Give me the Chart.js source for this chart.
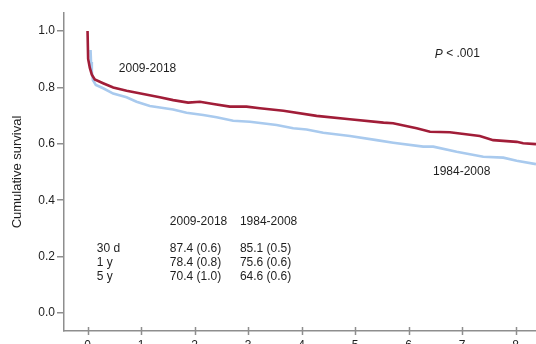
<!DOCTYPE html>
<html>
<head>
<meta charset="utf-8">
<script src="https://cdn.jsdelivr.net/npm/chart.js@4/dist/chart.umd.min.js"></script>
<style>
  html, body { margin: 0; padding: 0; background: #fff; overflow: hidden; }
  canvas { display: block; }
</style>
</head>
<body>
<canvas id="km" width="536" height="344"></canvas>
<script>
// Kaplan-Meier cumulative survival, two eras (years of follow-up vs. survival)
const recentYears    = [0, 0.011, 0.043, 0.08, 0.135, 0.29, 0.48, 0.73, 1.04, 1.35, 1.60, 1.88, 2.10, 2.35, 2.66, 2.97, 3.22, 3.66, 4.28, 4.90, 5.53, 5.71, 6.15, 6.40, 6.77, 7.33, 7.58, 8.02, 8.14, 8.38];
const recentSurvival = [1.0, 0.901, 0.869, 0.845, 0.828, 0.815, 0.800, 0.788, 0.777, 0.765, 0.755, 0.746, 0.749, 0.741, 0.732, 0.732, 0.726, 0.717, 0.699, 0.687, 0.675, 0.673, 0.655, 0.643, 0.641, 0.628, 0.613, 0.607, 0.602, 0.599];

const earlierYears    = [0.056, 0.065, 0.08, 0.10, 0.155, 0.292, 0.479, 0.729, 0.916, 1.164, 1.351, 1.60, 1.85, 2.161, 2.411, 2.721, 3.034, 3.533, 3.843, 4.093, 4.404, 4.903, 5.402, 5.712, 6.273, 6.46, 6.897, 7.394, 7.768, 8.019, 8.38];
const earlierSurvival = [0.933, 0.890, 0.855, 0.826, 0.809, 0.797, 0.778, 0.765, 0.749, 0.734, 0.729, 0.722, 0.710, 0.702, 0.694, 0.682, 0.678, 0.667, 0.655, 0.651, 0.639, 0.628, 0.613, 0.604, 0.590, 0.590, 0.572, 0.554, 0.551, 0.540, 0.528];

const xTicks = [0, 1, 2, 3, 4, 5, 6, 7, 8];
const yTicks = [0, 0.2, 0.4, 0.6, 0.8, 1.0];

const eraLabels = ['2009-2018', '1984-2008'];
const timepoints = ['30 d', '1 y', '5 y'];
const recentRates  = ['87.4 (0.6)', '78.4 (0.8)', '70.4 (1.0)'];
const earlierRates = ['85.1 (0.5)', '75.6 (0.6)', '64.6 (0.6)'];

const RED = '#a11d38';
const BLUE = '#a9caee';
const AXIS = '#8e8e8e';
const TEXT = '#1e1e1e';
const FONT = '"Liberation Sans", Arial, Helvetica, sans-serif';

const toPoints = (xs, ys) => xs.map((x, i) => ({ x: x, y: ys[i] }));

// tick marks on the time axis that straddle the axis line
const crossTicks = {
  id: 'crossTicks',
  afterDraw(chart) {
    const { ctx, scales: { x }, chartArea } = chart;
    ctx.save();
    ctx.strokeStyle = AXIS;
    ctx.lineWidth = 1.5;
    xTicks.forEach(v => {
      const px = Math.round(x.getPixelForValue(v)) + 0.5;
      ctx.beginPath();
      ctx.moveTo(px, chartArea.bottom - 4);
      ctx.lineTo(px, chartArea.bottom + 4);
      ctx.stroke();
    });
    ctx.restore();
  }
};

// curve labels, p value and the survival table
const annotations = {
  id: 'annotations',
  afterDatasetsDraw(chart) {
    const { ctx, scales: { x, y } } = chart;
    const put = (text, xv, yv, italicPrefix) => {
      const px = x.getPixelForValue(xv);
      const py = y.getPixelForValue(yv);
      ctx.textBaseline = 'middle';
      ctx.textAlign = 'left';
      if (italicPrefix) {
        ctx.font = 'italic 12px ' + FONT;
        ctx.fillText(italicPrefix, px, py);
        const w = ctx.measureText(italicPrefix).width;
        ctx.font = '12px ' + FONT;
        ctx.fillText(text, px + w, py);
      } else {
        ctx.font = '12px ' + FONT;
        ctx.fillText(text, px, py);
      }
    };
    ctx.save();
    ctx.fillStyle = TEXT;
    put(eraLabels[0], 0.585, 0.865);
    put(eraLabels[1], 6.455, 0.50);
    put(' < .001', 6.49, 0.918, 'P');

    put(eraLabels[0], 1.538, 0.323);
    put(eraLabels[1], 2.847, 0.323);
    const rowY = [0.228, 0.179, 0.129];
    timepoints.forEach((t, i) => {
      put(t, 0.174, rowY[i]);
      put(recentRates[i], 1.538, rowY[i]);
      put(earlierRates[i], 2.847, rowY[i]);
    });
    ctx.restore();
  }
};

new Chart(document.getElementById('km'), {
  type: 'line',
  data: {
    datasets: [
      {
        label: eraLabels[0],
        data: toPoints(recentYears, recentSurvival),
        borderColor: RED,
        borderWidth: 2.6,
        pointRadius: 0,
        tension: 0,
        fill: false
      },
      {
        label: eraLabels[1],
        data: toPoints(earlierYears, earlierSurvival),
        borderColor: BLUE,
        borderWidth: 2.6,
        pointRadius: 0,
        tension: 0,
        fill: false
      }
    ]
  },
  options: {
    responsive: false,
    devicePixelRatio: 1,
    animation: false,
    layout: { padding: { top: 13, right: 0, left: 0, bottom: 0 } },
    plugins: {
      legend: { display: false },
      tooltip: { enabled: false }
    },
    scales: {
      x: {
        type: 'linear',
        min: -0.44,
        max: 8.38,
        afterFit: s => { s.height = 13; },
        afterBuildTicks: s => { s.ticks = xTicks.map(v => ({ value: v })); },
        grid: { drawOnChartArea: false, drawTicks: false },
        border: { color: AXIS, width: 1.5 },
        ticks: {
          padding: 7,
          maxRotation: 0,
          autoSkip: false,
          color: TEXT,
          font: { family: FONT, size: 12 },
          callback: v => String(v)
        }
      },
      y: {
        type: 'linear',
        min: -0.064,
        max: 1.064,
        afterFit: s => { s.width = 64; },
        afterBuildTicks: s => { s.ticks = yTicks.map(v => ({ value: v })); },
        grid: { drawOnChartArea: false, drawTicks: true, tickLength: 7, color: AXIS, lineWidth: 1.5 },
        border: { color: AXIS, width: 1.5 },
        ticks: {
          padding: 2,
          color: TEXT,
          font: { family: FONT, size: 12 },
          callback: v => Number(v).toFixed(1)
        },
        title: {
          display: true,
          text: 'Cumulative survival',
          color: TEXT,
          font: { family: FONT, size: 13 },
          padding: { top: 10, bottom: 0 }
        }
      }
    }
  },
  plugins: [crossTicks, annotations]
});
</script>
</body>
</html>
